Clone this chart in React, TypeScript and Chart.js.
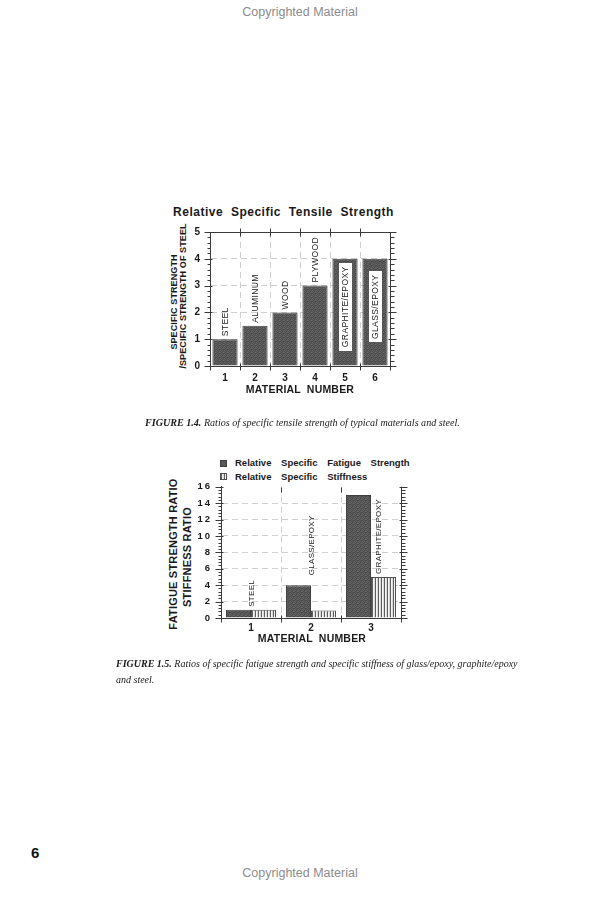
import React, { useEffect, useRef } from "react";
import { Chart, registerables } from "chart.js";

Chart.register(...registerables);

// ---------- data ----------
const MATERIAL_NUMBERS_1 = ["1", "2", "3", "4", "5", "6"];
const MATERIAL_NAMES_1 = ["STEEL", "ALUMINUM", "WOOD", "PLYWOOD", "GRAPHITE/EPOXY", "GLASS/EPOXY"];
const TENSILE_RATIO = [1, 1.5, 2, 3, 4, 4];
const Y1_MAX = 5;
const Y1_STEP = 1;

const MATERIAL_NUMBERS_2 = ["1", "2", "3"];
const MATERIAL_NAMES_2 = ["STEEL", "GLASS/EPOXY", "GRAPHITE/EPOXY"];
const FATIGUE_RATIO = [1, 4, 15];
const STIFFNESS_RATIO = [1, 0.9, 5];
const SERIES_NAMES_2 = ["Relative Specific Fatigue Strength", "Relative Specific Stiffness"];
const Y2_MAX = 16;
const Y2_STEP = 2;

const TITLE_1 = "Relative Specific Tensile Strength";
const Y_TITLE_1 = ["SPECIFIC STRENGTH", "/SPECIFIC STRENGTH OF STEEL"];
const Y_TITLE_2 = ["FATIGUE STRENGTH RATIO", "STIFFNESS RATIO"];
const X_TITLE = "MATERIAL NUMBER";
const CAPTION_1 = ["FIGURE 1.4.", "Ratios of specific tensile strength of typical materials and steel."];
const CAPTION_2 = ["FIGURE 1.5.", "Ratios of specific fatigue strength and specific stiffness of glass/epoxy, graphite/epoxy", "and steel."];

// ---------- styles ----------
const SANS = '"Liberation Sans", Arial, Helvetica, sans-serif';
const SERIF = '"Liberation Serif", "Times New Roman", serif';
const INK = "#1a1a1a";
const AXIS = "#3a3a3a";
const GRID = "#cfcfcf";
const BAR_DARK = "#575757";

function stipplePattern(): CanvasPattern | string {
  const c = document.createElement("canvas");
  c.width = 4;
  c.height = 4;
  const g = c.getContext("2d");
  if (!g) return BAR_DARK;
  const shades = [
    "#525252", "#646464", "#484848", "#5b5b5b",
    "#606060", "#4c4c4c", "#575757", "#686868",
    "#4b4b4b", "#5d5d5d", "#545454", "#474747",
    "#636363", "#4f4f4f", "#5a5a5a", "#555555",
  ];
  shades.forEach((s, i) => {
    g.fillStyle = s;
    g.fillRect(i % 4, Math.floor(i / 4), 1, 1);
  });
  return g.createPattern(c, "repeat") || BAR_DARK;
}

function hatchPattern(): CanvasPattern | string {
  const c = document.createElement("canvas");
  c.width = 3;
  c.height = 1;
  const g = c.getContext("2d");
  if (!g) return "#bbbbbb";
  const cols = ["#5e5e5e", "#f4f4f4", "#dadada"];
  cols.forEach((s, i) => {
    g.fillStyle = s;
    g.fillRect(i, 0, 1, 1);
  });
  return g.createPattern(c, "repeat") || "#bbbbbb";
}

const seg = (ctx: CanvasRenderingContext2D, x1: number, y1: number, x2: number, y2: number) => {
  ctx.beginPath();
  ctx.moveTo(x1, y1);
  ctx.lineTo(x2, y2);
  ctx.stroke();
};

// frame: right axis, optional top line, minor ticks and category-boundary ticks
const framePlugin = {
  id: "frame",
  afterDraw(chart: any, _args: any, o: any) {
    const { ctx, chartArea: a } = chart;
    const y = chart.scales.y;
    const x = chart.scales.x;
    ctx.save();
    ctx.strokeStyle = AXIS;
    ctx.lineWidth = 1;
    const l = Math.round(a.left) + 0.5;
    const r = Math.round(a.right) + 0.5;
    const t = Math.round(a.top) + 0.5;
    const b = Math.round(a.bottom) + 0.5;
    seg(ctx, r, a.top, r, a.bottom + 1);
    if (o.top) seg(ctx, l, t, r, t);
    const steps = Math.round((y.max - y.min) / o.minor);
    for (let k = 0; k <= steps; k++) {
      const v = y.min + k * o.minor;
      const py = Math.round(y.getPixelForValue(v)) + 0.5;
      const major = k % o.per === 0;
      seg(ctx, l - (major ? 6 : 3), py, l + (major ? 2 : 0), py);
      seg(ctx, r - (major ? 2 : 0), py, r + (major ? 6 : 4), py);
    }
    const n = x.ticks.length;
    for (let i = 1; i < n; i++) {
      const px = Math.round((x.getPixelForTick(i - 1) + x.getPixelForTick(i)) / 2) + 0.5;
      seg(ctx, px, b - 3, px, b + 4);
      if (o.top) seg(ctx, px, t - 4, px, t + 4);
      else seg(ctx, px, t, px, t + 5);
    }
    seg(ctx, l, b, l, b + 4);
    seg(ctx, r, b, r, b + 4);
    ctx.restore();
  },
};

function drawVertical(ctx: CanvasRenderingContext2D, text: string, x: number, y: number, align: CanvasTextAlign) {
  ctx.save();
  ctx.translate(x, y);
  ctx.rotate(-Math.PI / 2);
  ctx.textAlign = align;
  ctx.textBaseline = "middle";
  ctx.fillText(text, 0, 0);
  ctx.restore();
}

const names1Plugin = {
  id: "names1",
  afterDatasetsDraw(chart: any) {
    const { ctx } = chart;
    const meta = chart.getDatasetMeta(0);
    ctx.save();
    ctx.font = `8.5px ${SANS}`;
    (ctx as any).letterSpacing = "0.4px";
    meta.data.forEach((bar: any, i: number) => {
      const text = MATERIAL_NAMES_1[i];
      const v = TENSILE_RATIO[i];
      if (v >= 4) {
        const tw = ctx.measureText(text).width;
        const cy = bar.y + (bar.base - bar.y) * 0.45;
        const h = tw + 7;
        ctx.fillStyle = "#ffffff";
        ctx.fillRect(Math.round(bar.x - 6.5), Math.round(cy - h / 2), 13, Math.round(h));
        ctx.fillStyle = INK;
        drawVertical(ctx, text, bar.x + 0.5, cy, "center");
      } else {
        ctx.fillStyle = INK;
        drawVertical(ctx, text, bar.x + 0.5, bar.y - 3, "left");
      }
    });
    ctx.restore();
  },
};

const LABEL2_STYLE = [
  { over: "max", gap: 3, dx: 0 },
  { over: "max", gap: 10, dx: 0 },
  { over: "second", gap: 3, dx: 7 },
];

const names2Plugin = {
  id: "names2",
  afterDatasetsDraw(chart: any) {
    const { ctx } = chart;
    const m0 = chart.getDatasetMeta(0);
    const m1 = chart.getDatasetMeta(1);
    const x = chart.scales.x;
    ctx.save();
    ctx.font = `8px ${SANS}`;
    (ctx as any).letterSpacing = "0.3px";
    ctx.fillStyle = INK;
    MATERIAL_NAMES_2.forEach((text, i) => {
      const st = LABEL2_STYLE[i];
      const b0 = m0.data[i];
      const b1 = m1.data[i];
      const top = st.over === "max" ? Math.min(b0.y, b1.y) : b1.y;
      const cx = x.getPixelForTick(i) + st.dx;
      drawVertical(ctx, text, cx + 0.5, top - st.gap, "left");
    });
    ctx.restore();
  },
};

const gridColorX = (c: any) => (c.type !== "tick" || c.index === 0 ? "rgba(0,0,0,0)" : GRID);
const gridColorY = (max: number) => (c: any) =>
  c.type !== "tick" || c.tick.value <= 0 || c.tick.value >= max ? "rgba(0,0,0,0)" : GRID;

function TensileChart() {
  const ref = useRef<HTMLCanvasElement>(null);
  useEffect(() => {
    if (!ref.current) return;
    const chart = new Chart(ref.current, {
      type: "bar",
      data: {
        labels: MATERIAL_NUMBERS_1,
        datasets: [
          {
            data: TENSILE_RATIO,
            backgroundColor: stipplePattern() as any,
            borderColor: "#404040",
            borderWidth: 1,
            barPercentage: 0.84,
            categoryPercentage: 1,
          },
        ],
      },
      options: {
        animation: false,
        responsive: false,
        maintainAspectRatio: false,
        layout: { padding: { left: 0, right: 20, top: 37, bottom: 0 } },
        plugins: {
          legend: { display: false },
          tooltip: { enabled: false },
          frame: { minor: 0.2, per: 5, top: true },
        } as any,
        scales: {
          x: {
            grid: { offset: true, drawTicks: false, color: gridColorX, lineWidth: 1 },
            border: { display: true, color: AXIS, width: 1, dash: [6, 4] },
            ticks: { padding: 6, color: INK, font: { family: SANS, size: 10, weight: "bold" } },
            afterFit: (s: any) => {
              s.height = 34;
            },
          } as any,
          y: {
            min: 0,
            max: Y1_MAX,
            grid: { drawTicks: false, color: gridColorY(Y1_MAX), lineWidth: 1 },
            border: { display: true, color: AXIS, width: 1, dash: [6, 4] },
            ticks: { stepSize: Y1_STEP, padding: 10, color: INK, font: { family: SANS, size: 10, weight: "bold" } },
            afterFit: (s: any) => {
              s.width = 70;
            },
          } as any,
        },
      },
      plugins: [framePlugin, names1Plugin],
    });
    return () => chart.destroy();
  }, []);
  return (
    <canvas
      ref={ref}
      width={270}
      height={205}
      style={{ position: "absolute", left: 140, top: 195, width: 270, height: 205 }}
    />
  );
}

function FatigueChart() {
  const ref = useRef<HTMLCanvasElement>(null);
  useEffect(() => {
    if (!ref.current) return;
    const chart = new Chart(ref.current, {
      type: "bar",
      data: {
        labels: MATERIAL_NUMBERS_2,
        datasets: [
          {
            label: SERIES_NAMES_2[0],
            data: FATIGUE_RATIO,
            backgroundColor: stipplePattern() as any,
            borderColor: "#404040",
            borderWidth: 1,
            barPercentage: 1,
            categoryPercentage: 50 / 60,
          },
          {
            label: SERIES_NAMES_2[1],
            data: STIFFNESS_RATIO,
            backgroundColor: hatchPattern() as any,
            borderColor: "#505050",
            borderWidth: 1,
            barPercentage: 1,
            categoryPercentage: 50 / 60,
          },
        ],
      },
      options: {
        animation: false,
        responsive: false,
        maintainAspectRatio: false,
        layout: { padding: { left: 0, right: 19, top: 15, bottom: 0 } },
        plugins: {
          legend: { display: false },
          tooltip: { enabled: false },
          frame: { minor: 0.4, per: 5, top: false },
        } as any,
        scales: {
          x: {
            grid: { offset: true, drawTicks: false, color: gridColorX, lineWidth: 1 },
            border: { display: true, color: AXIS, width: 1, dash: [6, 4] },
            ticks: { padding: 4, color: INK, font: { family: SANS, size: 10, weight: "bold" } },
            afterFit: (s: any) => {
              s.height = 32;
            },
          } as any,
          y: {
            min: 0,
            max: Y2_MAX,
            grid: { drawTicks: false, color: gridColorY(Y2_MAX), lineWidth: 1 },
            border: { display: true, color: AXIS, width: 1, dash: [6, 4] },
            ticks: {
              stepSize: Y2_STEP,
              padding: 11,
              color: INK,
              font: { family: SANS, size: 9.5, weight: "bold" },
              callback: (v: any) => String(v).split("").join("\u2009"),
            },
            afterFit: (s: any) => {
              s.width = 71;
            },
          } as any,
        },
      },
      plugins: [framePlugin, names2Plugin],
    });
    return () => chart.destroy();
  }, []);
  return (
    <canvas
      ref={ref}
      width={270}
      height={180}
      style={{ position: "absolute", left: 150, top: 470, width: 270, height: 180 }}
    />
  );
}

const center = (cx: number, cy: number, extra: React.CSSProperties = {}): React.CSSProperties => ({
  position: "absolute",
  left: cx,
  top: cy,
  transform: "translate(-50%, -50%)",
  whiteSpace: "nowrap",
  lineHeight: 1,
  ...extra,
});

const vcenter = (cx: number, cy: number, extra: React.CSSProperties = {}): React.CSSProperties => ({
  position: "absolute",
  left: cx,
  top: cy,
  transform: "translate(-50%, -50%) rotate(-90deg)",
  whiteSpace: "nowrap",
  lineHeight: 1,
  ...extra,
});

const boldSans = (size: number, extra: React.CSSProperties = {}): React.CSSProperties => ({
  fontFamily: SANS,
  fontWeight: "bold",
  fontSize: size,
  color: INK,
  ...extra,
});

export default function App() {
  const legendSwatches = [
    { background: BAR_DARK, border: "1px solid #404040" },
    {
      background: "repeating-linear-gradient(90deg, #5e5e5e 0 1px, #f4f4f4 1px 2px, #dadada 2px 3px)",
      border: "1px solid #505050",
    },
  ];
  return (
    <div style={{ position: "absolute", left: 0, top: 0, width: 600, height: 900, background: "#ffffff", overflow: "hidden" }}>
      <div style={center(300, 12, { fontFamily: SANS, fontSize: 12.5, color: "#8c8c8c" })}>Copyrighted Material</div>

      {/* Figure 1.4 */}
      <div style={center(283.5, 212, boldSans(12, { letterSpacing: 0.5, wordSpacing: 4 }))}>{TITLE_1}</div>
      <div style={vcenter(174, 302, boldSans(9, { letterSpacing: 0.1 }))}>{Y_TITLE_1[0]}</div>
      <div style={vcenter(183, 296, boldSans(9, { letterSpacing: 0.1 }))}>{Y_TITLE_1[1]}</div>
      <TensileChart />
      <div style={center(300, 389, boldSans(10.5, { letterSpacing: 0.2, wordSpacing: 3 }))}>{X_TITLE}</div>
      <div style={{ position: "absolute", left: 145, top: 416, whiteSpace: "nowrap", fontFamily: SERIF, fontStyle: "italic", fontSize: 10.1, color: INK, lineHeight: "14px" }}>
        <b>{CAPTION_1[0]}</b> {CAPTION_1[1]}
      </div>

      {/* Figure 1.5 */}
      {SERIES_NAMES_2.map((name, i) => (
        <div key={name} style={{ position: "absolute", left: 220, top: 457 + i * 13.5, height: 12, display: "flex", alignItems: "center", whiteSpace: "nowrap" }}>
          <span style={{ display: "inline-block", width: 5, height: 5, marginRight: 8, ...legendSwatches[i] }} />
          <span style={boldSans(9.5, { wordSpacing: 7, lineHeight: 1 })}>{name}</span>
        </div>
      ))}
      <div style={vcenter(173, 554, boldSans(11, { letterSpacing: 0.2 }))}>{Y_TITLE_2[0]}</div>
      <div style={vcenter(186.5, 557, boldSans(11, { letterSpacing: 0.2 }))}>{Y_TITLE_2[1]}</div>
      <FatigueChart />
      <div style={center(312, 638, boldSans(10.5, { letterSpacing: 0.2, wordSpacing: 3 }))}>{X_TITLE}</div>
      <div style={{ position: "absolute", left: 116, top: 656, whiteSpace: "nowrap", fontFamily: SERIF, fontStyle: "italic", fontSize: 10, color: INK, lineHeight: "16px" }}>
        <b>{CAPTION_2[0]}</b> {CAPTION_2[1]}
        <br />
        {CAPTION_2[2]}
      </div>

      <div style={{ position: "absolute", left: 31, top: 845, fontFamily: SANS, fontWeight: "bold", fontSize: 15, color: "#111", lineHeight: 1 }}>6</div>
      <div style={center(300, 873, { fontFamily: SANS, fontSize: 12.5, color: "#8c8c8c" })}>Copyrighted Material</div>
    </div>
  );
}
